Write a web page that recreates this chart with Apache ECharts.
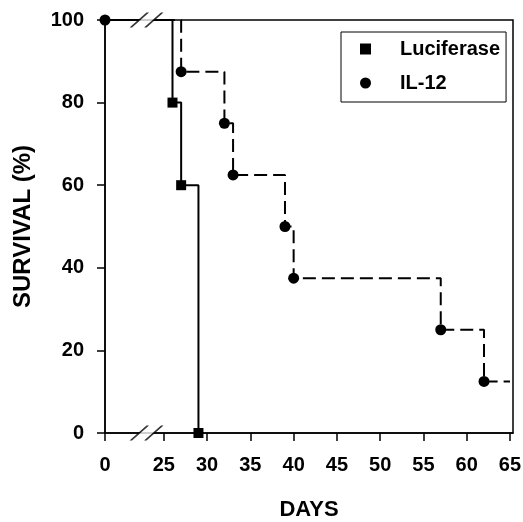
<!DOCTYPE html>
<html>
<head>
<meta charset="utf-8">
<script src="https://cdn.jsdelivr.net/npm/echarts@6/dist/echarts.min.js"></script>
<style>
  html, body { margin: 0; padding: 0; background: #fff; }
  #chart { width: 523px; height: 522px; }
</style>
</head>
<body>
<div id="chart"></div>
<script>
// survival data (day, % surviving)
const lucDays = [0, 26, 27, 29];
const lucSurvival = [100, 80, 60, 0];
const il12Days = [0, 27, 32, 33, 39, 40, 57, 62];
const il12Survival = [100, 87.5, 75, 62.5, 50, 37.5, 25, 12.5];
const il12FollowUpEnd = 65;

const tickDays = [0, 25, 30, 35, 40, 45, 50, 55, 60, 65];
const yTicks = [0, 20, 40, 60, 80, 100];

// broken x axis: 0..25 squeezed into a short span
const GAP = 6.8;
function toAxis(d) {
  return d >= 25 ? d - 25 + GAP : d * GAP / 25;
}
const tickPos = tickDays.map(toAxis);
const breakPos = 4.8;

const black = '#000';
const font = 'Liberation Sans, Arial, Helvetica, sans-serif';

let chart = echarts.init(document.getElementById('chart'));

// day 0 marker is drawn by the IL-12 series only
let lucData = lucDays.map((d, i) => i === 0
  ? { value: [toAxis(d), lucSurvival[i]], symbol: 'none' }
  : [toAxis(d), lucSurvival[i]]);
let il12Data = il12Days.map((d, i) => [toAxis(d), il12Survival[i]]);
il12Data.push({ value: [toAxis(il12FollowUpEnd), il12Survival[il12Survival.length - 1]], symbol: 'none' });

let option = {
  animation: false,
  grid: {
    left: 105, right: 10, top: 20, bottom: 89,
    outerBoundsMode: 'none',
    show: true, borderColor: black, borderWidth: 1.5
  },
  legend: {
    data: [{ name: 'Luciferase', icon: 'rect' }, { name: 'IL-12', icon: 'circle' }],
    orient: 'vertical',
    left: 341, top: 32,
    itemWidth: 11, itemHeight: 11, itemGap: 14,
    padding: [7, 6, 9, 19],
    borderColor: black, borderWidth: 1,
    itemStyle: { color: black, borderWidth: 0 },
    textStyle: {
      color: black, fontSize: 20, fontWeight: 'bold', fontFamily: font,
      padding: [0, 0, 0, 24]
    }
  },
  xAxis: {
    type: 'value',
    min: 0,
    max: toAxis(65) + 0.35,
    name: 'DAYS',
    nameLocation: 'middle',
    nameGap: 66,
    nameTextStyle: { color: black, fontSize: 22, fontWeight: 'bold', fontFamily: font },
    axisLine: { lineStyle: { color: black, width: 1.5 } },
    axisTick: { customValues: tickPos, length: 8, lineStyle: { color: black, width: 1.5 } },
    axisLabel: {
      customValues: tickPos,
      margin: 22,
      color: black, fontSize: 20, fontWeight: 'bold', fontFamily: font,
      formatter: function (v) {
        let i = tickPos.findIndex(p => Math.abs(p - v) < 1e-6);
        return i < 0 ? '' : String(tickDays[i]);
      }
    },
    splitLine: { show: false }
  },
  yAxis: {
    type: 'value',
    min: yTicks[0],
    max: yTicks[yTicks.length - 1],
    interval: 20,
    name: 'SURVIVAL (%)',
    nameLocation: 'middle',
    nameGap: 70,
    nameTextStyle: { color: black, fontSize: 24, fontWeight: 'bold', fontFamily: font },
    axisLine: { lineStyle: { color: black, width: 1.5 } },
    axisTick: { length: 8, lineStyle: { color: black, width: 1.5 } },
    axisLabel: { margin: 21, color: black, fontSize: 20, fontWeight: 'bold', fontFamily: font },
    splitLine: { show: false }
  },
  series: [
    {
      name: 'Luciferase',
      type: 'line',
      step: 'end',
      clip: false,
      data: lucData,
      symbol: 'rect',
      symbolSize: 10,
      itemStyle: { color: black, borderWidth: 0 },
      lineStyle: { color: black, width: 2 },
      z: 3
    },
    {
      name: 'IL-12',
      type: 'line',
      step: 'end',
      clip: false,
      data: il12Data,
      symbol: 'circle',
      symbolSize: 11,
      itemStyle: { color: black, borderWidth: 0 },
      lineStyle: { color: black, width: 2, type: [13, 6] },
      z: 4
    },
    {
      // white gap between the break marks
      type: 'scatter',
      data: [[breakPos, 0], [breakPos, 100]],
      symbol: 'path://M2.5,15 L14.5,15 L31.5,0 L19.5,0 Z',
      symbolSize: [34, 15],
      itemStyle: { color: '#fff' },
      silent: true,
      z: 8
    },
    {
      // the "//" break marks
      type: 'scatter',
      data: [[breakPos, 0], [breakPos, 100]],
      symbol: 'path://M0,15 L2.5,15 L19.5,0 L17,0 Z M14.5,15 L17,15 L34,0 L31.5,0 Z',
      symbolSize: [34, 15],
      itemStyle: { color: black },
      silent: true,
      z: 9
    }
  ]
};

chart.setOption(option);
</script>
</body>
</html>
